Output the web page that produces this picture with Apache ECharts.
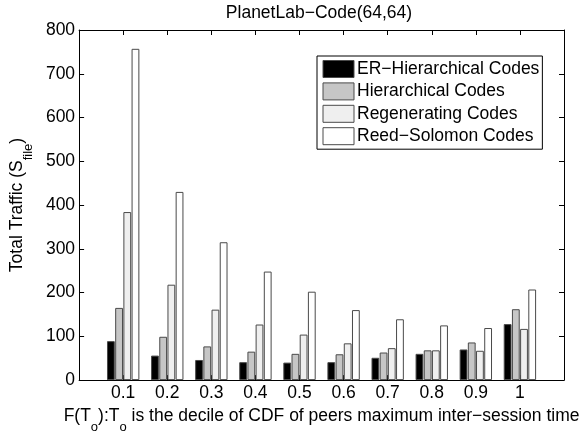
<!DOCTYPE html>
<html>
<head>
<meta charset="utf-8">
<script src="https://cdn.jsdelivr.net/npm/echarts@6/dist/echarts.min.js"></script>
<style>html,body{margin:0;padding:0;background:#fff}#c{width:581px;height:439px}</style>
</head>
<body>
<div id="c"></div>
<script>
const categories = ['0.1','0.2','0.3','0.4','0.5','0.6','0.7','0.8','0.9','1'];
const seriesNames = ['ER\u2212Hierarchical Codes','Hierarchical Codes','Regenerating Codes','Reed\u2212Solomon Codes'];
const erHierarchical = [89, 56, 46, 41, 40, 41, 51, 60, 70, 128];
const hierarchical = [165, 99, 77, 65, 60, 59, 63, 68, 86, 162];
const regenerating = [384, 218, 161, 127, 104, 84, 73, 68, 67, 117];
const reedSolomon = [757, 430, 315, 248, 202, 160, 139, 125, 119, 207];
const yTicks = [0, 100, 200, 300, 400, 500, 600, 700, 800];

const seriesValues = [erHierarchical, hierarchical, regenerating, reedSolomon];
const fills = ['#000000', '#c6c6c6', '#efefef', '#ffffff'];
const FONT = 'Liberation Sans, Arial, Helvetica, sans-serif';
const FS = 17.5;
const EDGE = '#4a4a4a';

const chart = echarts.init(document.getElementById('c'), null, {renderer: 'canvas'});

const series = seriesValues.map((vals, k) => ({
  name: seriesNames[k],
  type: 'bar',
  xAxisIndex: 0,
  yAxisIndex: 0,
  barWidth: 7.8,
  barGap: '5%',
  data: categories.map((c, i) => [i + 1, vals[i]]),
  itemStyle: {color: fills[k], borderColor: EDGE, borderWidth: 1},
  emphasis: {disabled: true},
  animation: false
}));

const commonTick = {show: true, inside: true, length: 5, lineStyle: {color: '#000', width: 1}};
const subRich = {s: {fontFamily: FONT, fontSize: 13, color: '#000', padding: [23, 0, 0, 0]}};

chart.setOption({
  animation: false,
  grid: {left: 74, right: 17, top: 30, bottom: 52.5, containLabel: false},
  legend: {
    show: true,
    orient: 'vertical',
    left: 317,
    top: 56,
    itemWidth: 31,
    itemHeight: 17,
    itemGap: 4.4,
    padding: [4, 3, 4, 5.5],
    backgroundColor: '#fff',
    borderColor: '#000',
    borderWidth: 1,
    icon: 'rect',
    textStyle: {fontFamily: FONT, fontSize: FS, color: '#000', padding: [0, 0, 0, -2]},
    data: seriesNames.map((n, k) => ({name: n, itemStyle: {color: fills[k], borderColor: EDGE, borderWidth: 1}}))
  },
  xAxis: [
    {
      type: 'value', position: 'bottom', min: 0, max: categories.length + 1, interval: 1,
      axisLine: {show: true, onZero: false, lineStyle: {color: '#000', width: 1}},
      axisTick: commonTick,
      splitLine: {show: false},
      axisLabel: {
        fontFamily: FONT, fontSize: FS, color: '#000', margin: 4,
        formatter: v => (v >= 1 && v <= categories.length) ? categories[v - 1] : ''
      },
      name: 'F(T{s|o}):T{s|o} is the decile of CDF of peers maximum inter\u2212session time',
      nameLocation: 'middle',
      nameGap: 10.7,
      nameTextStyle: {fontFamily: FONT, fontSize: FS, color: '#000', rich: subRich}
    },
    {
      type: 'value', position: 'top', min: 0, max: categories.length + 1, interval: 1,
      axisLine: {show: true, onZero: false, lineStyle: {color: '#000', width: 1}},
      axisTick: commonTick,
      splitLine: {show: false},
      axisLabel: {show: false}
    }
  ],
  yAxis: [
    {
      type: 'value', position: 'left', min: yTicks[0], max: yTicks[yTicks.length - 1], interval: 100,
      axisLine: {show: true, onZero: false, lineStyle: {color: '#000', width: 1}},
      axisTick: commonTick,
      splitLine: {show: false},
      axisLabel: {fontFamily: FONT, fontSize: FS, color: '#000', margin: 4},
      name: 'Total Traffic (S{s|file})',
      nameLocation: 'middle',
      nameGap: 35.7,
      nameRotate: 90,
      nameTextStyle: {fontFamily: FONT, fontSize: FS, color: '#000', rich: subRich}
    },
    {
      type: 'value', position: 'right', min: yTicks[0], max: yTicks[yTicks.length - 1], interval: 100,
      axisLine: {show: true, onZero: false, lineStyle: {color: '#000', width: 1}},
      axisTick: commonTick,
      splitLine: {show: false},
      axisLabel: {show: false}
    }
  ],
  graphic: [{
    type: 'text',
    x: 319,
    y: 13.4,
    style: {text: 'PlanetLab\u2212Code(64,64)', fontFamily: FONT, fontSize: FS, fill: '#000', align: 'center', verticalAlign: 'middle'}
  }],
  series: series
});
</script>
</body>
</html>
